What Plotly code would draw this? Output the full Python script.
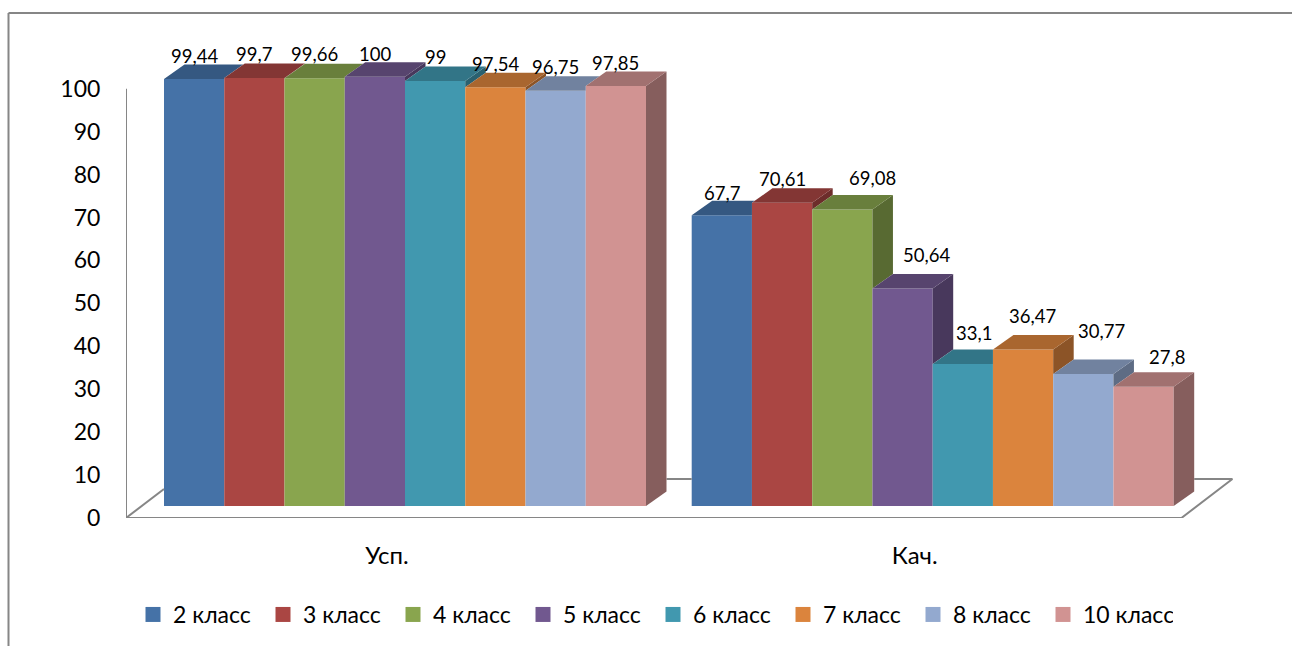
import plotly.graph_objects as go

# ---------- data ----------
categories = ["Усп.", "Кач."]
series_names = ["2 класс", "3 класс", "4 класс", "5 класс", "6 класс", "7 класс", "8 класс", "10 класс"]
uspevaemost = [99.44, 99.7, 99.66, 100, 99, 97.54, 96.75, 97.85]
kachestvo = [67.7, 70.61, 69.08, 50.64, 33.1, 36.47, 30.77, 27.8]
axis_labels = [0, 10, 20, 30, 40, 50, 60, 70, 80, 90, 100]

# ---------- style ----------
colors = ["#4572A7", "#AA4643", "#89A54E", "#71588F", "#4198AF", "#DB843D", "#93A9CF", "#D19392"]
TOP_F, SIDE_F = 0.77, 0.64
GRAY = "#868686"
FONT = "Lato"

W, H = 1292, 646
PX_PER_CAT = 527.7
PX_PER_UNIT = 4.293
CAT0_PX = 405.0
BASE_PX = 506.0
AX_LEFT_PX, AX_RIGHT_PX, AX_BOTTOM_PX = 126.0, 1240.0, 518.0

def xd(px):
    return (px - CAT0_PX) / PX_PER_CAT

def yd(px):
    return (BASE_PX - px) / PX_PER_UNIT

BARGAP = 0.0866
BAR_W = (1 - BARGAP) / len(series_names)
DX = 20.5 / PX_PER_CAT       # depth of a bar, in axis units
DY = 14.5 / PX_PER_UNIT
FLOOR_Y = yd(AX_BOTTOM_PX)    # the zero of the drawn axis sits below the bar base
FLOOR_DX, FLOOR_DY = 51 / PX_PER_CAT, 39 / PX_PER_UNIT

def shade(hex_color, f):
    r, g, b = (int(hex_color[i:i + 2], 16) for i in (1, 3, 5))
    return f"rgb({round(r * f)},{round(g * f)},{round(b * f)})"

fig = go.Figure()

# floor and back wall line
left_edge = xd(AX_LEFT_PX)
g0_right = 0 + (1 - BARGAP) / 2
g1_left = 1 - (1 - BARGAP) / 2
g1_right = 1 + (1 - BARGAP) / 2
back_y = FLOOR_Y + FLOOR_DY
right_front = g1_right + 7.7 / PX_PER_CAT
diag_to_bar = -(1 - BARGAP) / 2
floor_x = [left_edge, left_edge, None,
           left_edge, diag_to_bar, None,
           left_edge, right_front, right_front + FLOOR_DX, g1_right + DX, None,
           g0_right + DX, g1_left]
floor_y = [FLOOR_Y + 100, FLOOR_Y, None,
           FLOOR_Y, FLOOR_Y + FLOOR_DY * (diag_to_bar - left_edge) / FLOOR_DX, None,
           FLOOR_Y, FLOOR_Y, back_y, back_y, None,
           back_y, back_y]
fig.add_trace(go.Scatter(x=floor_x, y=floor_y, mode="lines", showlegend=False, hoverinfo="skip",
                         cliponaxis=False, line=dict(color=GRAY, width=2)))

# front faces: real grouped bars
for i, name in enumerate(series_names):
    fig.add_trace(go.Bar(x=[0, 1], y=[uspevaemost[i], kachestvo[i]], name=name,
                         marker=dict(color=colors[i], line=dict(width=0)), showlegend=False,
                         hoverinfo="skip"))

# 3D faces, derived from the values
def face(xs, ys, color):
    fig.add_trace(go.Scatter(x=xs, y=ys, mode="lines", fill="toself", fillcolor=color,
                             line=dict(width=0, color=color), showlegend=False, hoverinfo="skip"))

for g, values in enumerate([uspevaemost, kachestvo]):
    g_left = g - (1 - BARGAP) / 2
    for i, v in enumerate(values):
        xl = g_left + i * BAR_W
        xr = xl + BAR_W
        nxt = values[i + 1] if i + 1 < len(values) else 0
        # side face: only the part standing above the neighbour
        if v > nxt:
            face([xr, xr + DX, xr + DX, xr, xr], [v, v + DY, nxt + DY, nxt, v], shade(colors[i], SIDE_F))
        # top face: clipped by a taller neighbour
        if nxt <= v:
            face([xl, xr, xr + DX, xl + DX, xl], [v, v, v + DY, v + DY, v], shade(colors[i], TOP_F))
        else:
            vc = min(v + DY, nxt)
            face([xl, xr, xr, xr + (v + DY - vc) / DY * DX, xl + DX, xl],
                 [v, v, vc, v + DY, v + DY, v], shade(colors[i], TOP_F))

# legend entries
for i, name in enumerate(series_names):
    fig.add_trace(go.Scatter(x=[None], y=[None], mode="markers", name=name,
                             marker=dict(symbol="square", size=15, color=colors[i]), hoverinfo="skip"))

# data labels
label_shift = [
    [(0, 23), (0, 24), (0, 24), (0, 23), (0, 24), (0, 23), (0, 24), (0, 23)],
    [(0, 22), (0, 24), (30, 31), (24, 34), (11, 31), (9, 33), (18, 43), (23, 30)],
]
annotations = []
for g, values in enumerate([uspevaemost, kachestvo]):
    g_left = g - (1 - BARGAP) / 2
    for i, v in enumerate(values):
        sx, sy = label_shift[g][i]
        annotations.append(dict(x=g_left + (i + 0.5) * BAR_W, y=v, xref="x", yref="y",
                                text=str(v).replace(".", ","), showarrow=False,
                                xshift=sx, yshift=sy, xanchor="center", yanchor="middle",
                                font=dict(family=FONT, size=18.5, color="#000")))

fig.update_layout(
    width=W, height=H, autosize=False,
    margin=dict(l=0, r=0, t=0, b=0, autoexpand=False),
    paper_bgcolor="white", plot_bgcolor="rgba(0,0,0,0)",
    barmode="group", bargap=BARGAP, bargroupgap=0,
    annotations=annotations,
    font=dict(family=FONT, color="#000"),
    legend=dict(orientation="h", x=133 / W, xanchor="left", y=1 - 636 / H, yanchor="bottom",
                entrywidth=85, entrywidthmode="pixels", font=dict(family=FONT, size=23),
                bgcolor="rgba(0,0,0,0)", traceorder="normal", itemclick=False, itemdoubleclick=False),
    xaxis=dict(domain=[AX_LEFT_PX / W, AX_RIGHT_PX / W], range=[xd(AX_LEFT_PX), xd(AX_RIGHT_PX)],
               tickmode="array", tickvals=[k - 18 / PX_PER_CAT for k in range(len(categories))],
               ticktext=categories, showgrid=False, zeroline=False, showline=False,
               ticks="outside", ticklen=16, tickcolor="rgba(0,0,0,0)",
               tickfont=dict(family=FONT, size=24)),
    yaxis=dict(domain=[1 - AX_BOTTOM_PX / H, 1], range=[FLOOR_Y, yd(0)],
               tickmode="array", tickvals=[FLOOR_Y + a for a in axis_labels],
               ticktext=[str(a) for a in axis_labels], showgrid=False, zeroline=False, showline=False,
               ticks="outside", ticklen=20, tickcolor="rgba(0,0,0,0)",
               tickfont=dict(family=FONT, size=23)),
    shapes=[
        dict(type="line", xref="paper", yref="paper", x0=8.5 / W, x1=1, y0=1 - 13 / H, y1=1 - 13 / H,
             line=dict(color=GRAY, width=2)),
        dict(type="line", xref="paper", yref="paper", x0=8.5 / W, x1=8.5 / W, y0=0, y1=1 - 13 / H,
             line=dict(color=GRAY, width=2)),
    ],
)

fig.write_html("out.html", config=dict(displayModeBar=False),
               post_script="document.body.style.margin='0';document.body.style.overflow='hidden';")
